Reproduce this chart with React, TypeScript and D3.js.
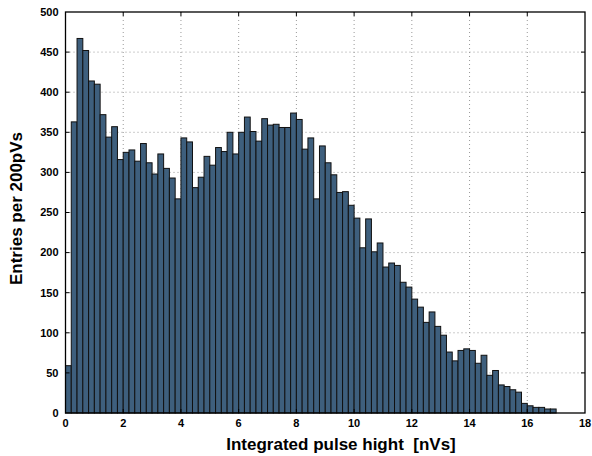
import React, { useEffect, useRef } from 'react';
import * as d3 from 'd3';

// histogram: 0.2 nVs bins from 0 to 17 nVs
const binWidth = 0.2;
const counts = [
  59, 363, 467, 452, 414, 410, 372, 344, 357, 316,
  325, 328, 314, 336, 312, 298, 323, 305, 293, 267,
  343, 338, 281, 294, 320, 309, 331, 326, 350, 323,
  350, 369, 351, 339, 367, 359, 360, 356, 356, 374,
  366, 329, 343, 267, 333, 312, 297, 275, 276, 259,
  243, 206, 242, 201, 212, 182, 187, 184, 163, 157,
  142, 132, 113, 126, 108, 97, 76, 65, 78, 80,
  78, 62, 72, 47, 53, 35, 33, 29, 26, 12,
  9, 7, 7, 5, 5,
];
const xTicks = [0, 2, 4, 6, 8, 10, 12, 14, 16, 18];
const yTicks = [0, 50, 100, 150, 200, 250, 300, 350, 400, 450, 500];
const xLabel = 'Integrated pulse hight  [nVs]';
const yLabel = 'Entries per 200pVs';

const W = 592, H = 456;

const App = () => {
  const ref = useRef<SVGSVGElement>(null);

  useEffect(() => {
    const svg = d3.select(ref.current);
    svg.selectAll('*').remove();

    const margin = { top: 12, right: 7, bottom: 43, left: 65.5 };
    const width = W - margin.left - margin.right;
    const height = H - margin.top - margin.bottom;
    const font = 'Liberation Sans, Arial, Helvetica, sans-serif';

    const x = d3.scaleLinear().domain([0, 18]).range([0, width]);
    const y = d3.scaleLinear().domain([0, 500]).range([height, 0]);

    const g = svg.append('g').attr('transform', `translate(${margin.left},${margin.top})`);

    // dotted grid
    g.append('g').selectAll('line.gx')
      .data(xTicks.slice(1, -1))
      .enter().append('line')
      .attr('x1', d => x(d)).attr('x2', d => x(d))
      .attr('y1', 0).attr('y2', height)
      .attr('stroke', '#999').attr('stroke-width', 1)
      .attr('stroke-dasharray', '1,3');
    g.append('g').selectAll('line.gy')
      .data(yTicks.slice(1, -1))
      .enter().append('line')
      .attr('x1', 0).attr('x2', width)
      .attr('y1', d => y(d)).attr('y2', d => y(d))
      .attr('stroke', '#999').attr('stroke-width', 1)
      .attr('stroke-dasharray', '1,3');

    // bars
    g.append('g').selectAll('rect')
      .data(counts)
      .enter().append('rect')
      .attr('x', (d, i) => x(i * binWidth))
      .attr('width', x(binWidth) - x(0))
      .attr('y', d => y(d))
      .attr('height', d => height - y(d))
      .attr('fill', '#3e5f7d')
      .attr('stroke', '#111')
      .attr('stroke-width', 1);

    // frame with inward ticks
    g.append('rect')
      .attr('width', width).attr('height', height)
      .attr('fill', 'none').attr('stroke', '#000').attr('stroke-width', 1.3);

    const tickLen = 4;
    const ticks = g.append('g').attr('stroke', '#000').attr('stroke-width', 1);
    xTicks.slice(1, -1).forEach(t => {
      ticks.append('line').attr('x1', x(t)).attr('x2', x(t)).attr('y1', 0).attr('y2', tickLen);
      ticks.append('line').attr('x1', x(t)).attr('x2', x(t)).attr('y1', height).attr('y2', height - tickLen);
    });
    yTicks.slice(1, -1).forEach(t => {
      ticks.append('line').attr('x1', 0).attr('x2', tickLen).attr('y1', y(t)).attr('y2', y(t));
      ticks.append('line').attr('x1', width).attr('x2', width - tickLen).attr('y1', y(t)).attr('y2', y(t));
    });

    // tick labels
    g.append('g').selectAll('text')
      .data(xTicks)
      .enter().append('text')
      .attr('x', d => x(d)).attr('y', height + 14)
      .attr('text-anchor', 'middle')
      .attr('font-family', font).attr('font-weight', 'bold').attr('font-size', 11)
      .text(d => d);
    g.append('g').selectAll('text')
      .data(yTicks)
      .enter().append('text')
      .attr('x', -7).attr('y', d => y(d)).attr('dy', '0.35em')
      .attr('text-anchor', 'end')
      .attr('font-family', font).attr('font-weight', 'bold').attr('font-size', 11)
      .text(d => d);

    // axis titles
    g.append('text')
      .attr('x', 341 - margin.left).attr('y', height + 37)
      .attr('text-anchor', 'middle')
      .style('white-space', 'pre')
      .attr('font-family', font).attr('font-weight', 'bold').attr('font-size', 17)
      .text(xLabel);
    g.append('text')
      .attr('transform', `translate(${-44},${height / 2 - 4}) rotate(-90)`)
      .attr('text-anchor', 'middle')
      .attr('font-family', font).attr('font-weight', 'bold').attr('font-size', 17)
      .text(yLabel);
  }, []);

  return <svg ref={ref} width={W} height={H} style={{ position: 'absolute', left: 0, top: 0, background: '#fff' }} />;
};

export default App;
